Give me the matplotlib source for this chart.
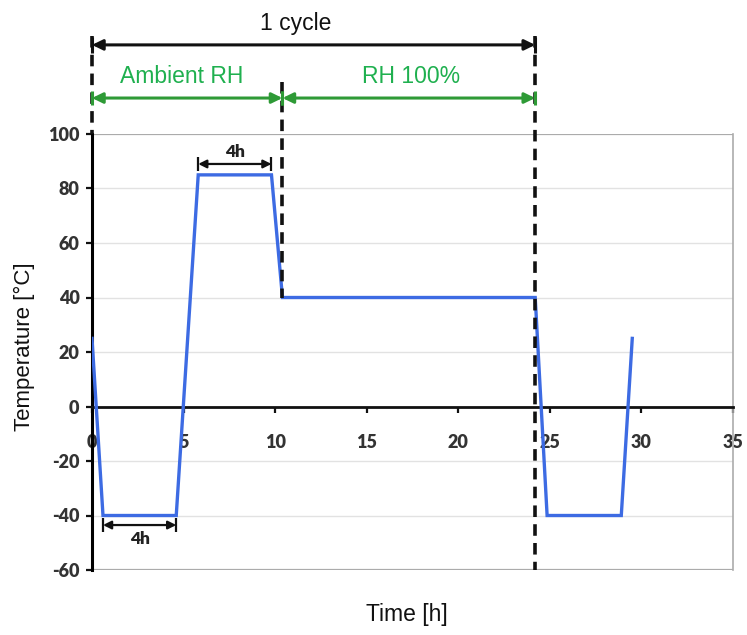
import matplotlib
matplotlib.use("Agg")
import matplotlib.pyplot as plt

# Temperature profile of the cycling test
time_h = [0, 0.6, 4.6, 5.8, 9.8, 10.4, 24.2, 24.85, 28.9, 29.5]
temp_c = [25, -40, -40, 85, 85, 40, 40, -40, -40, 25]

# Phase boundaries [h]
cycle_start = 0
rh_switch = 10.4
cycle_end = 24.2

# Dwell markers: (start, end, label)
cold_dwell = (0.6, 4.6, "4h")
hot_dwell = (5.8, 9.8, "4h")

x_ticks = [0, 5, 10, 15, 20, 25, 30, 35]
y_ticks = [-60, -40, -20, 0, 20, 40, 60, 80, 100]

BLUE = "#3d6be3"
GREEN_TXT = "#1fb04f"
GREEN_ARR = "#2e9a36"
TICK_COL = "#333333"

plt.rcParams["font.family"] = ["Liberation Sans", "DejaVu Sans"]

fig = plt.figure(figsize=(7.47, 6.35), dpi=100)
ax = fig.add_axes([92 / 747, 65 / 635, 641 / 747, 436 / 635])
ax.set_xlim(0, 35)
ax.set_ylim(-60, 100)

# grid and frame
for y in y_ticks:
    if y in (-60, 100):
        ax.axhline(y, color="#ababab", lw=1.6, zorder=1)
    elif y != 0:
        ax.axhline(y, color="#e2e2e2", lw=1.0, zorder=1)
ax.spines["top"].set_visible(False)
ax.spines["right"].set_color("#ababab")
ax.spines["right"].set_linewidth(1.2)
ax.spines["left"].set_color("black")
ax.spines["left"].set_linewidth(2.2)
ax.spines["bottom"].set_position(("data", 0))
ax.spines["bottom"].set_color("#111111")
ax.spines["bottom"].set_linewidth(2.0)

ax.set_xticks(x_ticks)
ax.set_yticks(y_ticks)
ax.set_xticklabels([str(v) for v in x_ticks])
ax.set_yticklabels([str(v) for v in y_ticks])
ax.tick_params(axis="x", direction="out", length=4, width=1.6, color="#111111",
               pad=16, labelsize=13, labelcolor=TICK_COL)
ax.tick_params(axis="y", direction="out", length=4, width=1.6, color="#111111",
               pad=5, labelsize=13, labelcolor=TICK_COL)
for lab in ax.get_xticklabels() + ax.get_yticklabels():
    lab.set_fontfamily(["Lato", "DejaVu Sans"])
    lab.set_fontweight("heavy")

# temperature curve
ax.plot(time_h, temp_c, color=BLUE, lw=2.4, zorder=4, solid_joinstyle="miter")

DASH = dict(color="#111111", lw=2.6, ls=(0, (3.2, 2.0)), clip_on=False, zorder=5)
ax.plot([cycle_start, cycle_start], [136, 100], **DASH)
ax.plot([rh_switch, rh_switch], [119, 40], **DASH)
ax.plot([cycle_end, cycle_end], [136, -60], **DASH)


def dim_arrow(x0, x1, y, color, lw, half, head=(0.45, 0.22), scale=14):
    ax.annotate("", xy=(x1, y), xytext=(x0, y), annotation_clip=False,
                arrowprops=dict(arrowstyle=f"<|-|>,head_length={head[0]},head_width={head[1]}",
                                color=color, lw=lw, shrinkA=0, shrinkB=0,
                                mutation_scale=scale), zorder=6)
    for xx in (x0, x1):
        ax.plot([xx, xx], [y - half, y + half], color=color, lw=lw, clip_on=False,
                zorder=6, solid_capstyle="butt")


# cycle and humidity phase brackets
dim_arrow(cycle_start, cycle_end, 132.7, "#111111", 2.2, 2.8)
dim_arrow(cycle_start, rh_switch, 113.2, GREEN_ARR, 2.2, 2.6)
dim_arrow(rh_switch, cycle_end, 113.2, GREEN_ARR, 2.2, 2.6)

ax.text((cycle_start + cycle_end) / 2 - 1.0, 138.2, "1 cycle", ha="center", va="baseline",
        fontsize=16.5, color="#111111", clip_on=False)
ax.text(4.9, 118.6, "Ambient RH", ha="center", va="baseline", fontsize=16.5,
        color=GREEN_TXT, clip_on=False)
ax.text(17.4, 118.6, "RH 100%", ha="center", va="baseline", fontsize=16.5,
        color=GREEN_TXT, clip_on=False)

# dwell time markers
for (x0, x1, lab), y, ty in ((hot_dwell, 89.0, 93.4), (cold_dwell, -43.5, -48.8)):
    dim_arrow(x0, x1, y, "#111111", 1.6, 2.5, head=(0.4, 0.2), scale=12)
    ax.text((x0 + x1) / 2, ty, lab, ha="center", va="center", fontsize=12.5,
            fontweight="heavy", color="#222222", family=["Lato", "DejaVu Sans"])

fig.text(24 / 747, 1 - 347 / 635, "Temperature [°C]", rotation=90, ha="center",
         va="center", fontsize=16, color="#111111")
fig.text(407 / 747, 1 - 615 / 635, "Time [h]", ha="center", va="center",
         fontsize=16.5, color="#111111")

fig.savefig("out.png", dpi=100, facecolor="white")
